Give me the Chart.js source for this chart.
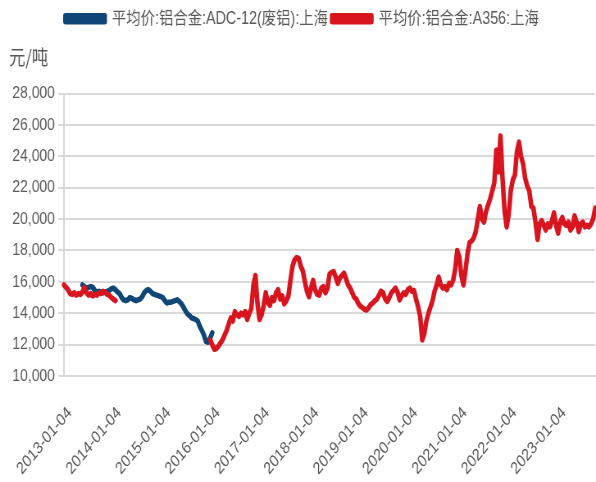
<!DOCTYPE html>
<html>
<head>
<meta charset="utf-8">
<script src="https://cdn.jsdelivr.net/npm/chart.js@4.4.1/dist/chart.umd.min.js"></script>
<style>
  html, body { margin: 0; padding: 0; background: #ffffff; overflow: hidden; }
  #wrap { width: 596px; height: 482px; }
  /* the reference is horizontally condensed: draw wider, show at 596px */
  #c { width: 596px; height: 482px; display: block; }
</style>
</head>
<body>
<div id="wrap"><canvas id="c" width="727" height="482" style="width:596px;height:482px"></canvas></div>
<script>
// ---- Data (semi-monthly samples) ----
const tickLabels = ['2013-01-04','2014-01-04','2015-01-04','2016-01-04','2017-01-04',
  '2018-01-04','2019-01-04','2020-01-04','2021-01-04','2022-01-04','2023-01-04'];
const samplesPerYear = 24;
const seriesNames = ['平均价:铝合金:ADC-12(废铝):上海', '平均价:铝合金:A356:上海'];
const unitLabel = '元/吨';

// A356, Jan 2013 - Jan 2014
const a356Early = [15800,15650,15500,15250,15200,15300,15150,15250,15200,15350,
  15650,15300,15150,15250,15100,15200,15150,15300,15250,15400,
  15350,15200,15150,15000,14900,14800];
// A356 gap (no data) length in samples
const a356GapLength = 45;
// A356, Dec 2015 - Sep 2023
const a356Late = [12300,12000,11700,11750,11900,12100,12300,12600,12900,13300,
  13700,13500,14100,13900,13800,14000,13900,14100,13600,14000,
  14300,15800,16400,14600,13600,13900,14500,15300,14700,14500,
  15000,14800,15300,15500,14900,15100,14600,14800,15100,16100,
  17000,17400,17550,17500,17000,16700,16000,15400,15050,15600,
  16100,15500,15200,15150,15600,15700,15300,15600,16500,16600,
  16650,16300,15900,16250,16400,16550,16200,15800,15600,15300,
  15000,14900,14600,14450,14350,14250,14200,14350,14550,14650,
  14800,14900,15150,15400,15300,14900,14750,15000,15300,15450,
  15600,15350,14850,15100,15300,15200,15500,15600,15400,15450,
  14900,14400,13800,12300,12700,13500,14000,14400,14800,15400,
  15800,16300,15800,15600,15700,15500,15900,15800,16100,16800,
  18000,17600,16400,15800,16700,17800,18500,18600,18800,19200,
  20000,20800,20000,19800,20500,20900,21300,21800,22300,24400,
  23000,25300,22600,20500,19500,20300,21800,22500,22800,24300,
  24900,24000,23500,22600,22100,21800,20800,20700,19800,18700,
  19700,19900,19600,19300,19700,19500,19900,20400,19600,19100,
  19800,20100,19700,19600,19800,19300,19500,20200,19800,19200,
  19700,19800,19500,19600,19500,19700,20000,20700];

// ADC-12, May 2013 - Jan 2016
const adc12StartSample = 9;
const adc12 = [15800,15700,15600,15650,15700,15650,15450,15350,15400,15350,
  15300,15350,15400,15450,15550,15600,15500,15350,15250,15000,
  14850,14800,14850,15000,14950,14850,14800,14850,14900,15050,
  15300,15450,15500,15400,15250,15200,15150,15100,15050,15000,
  14800,14650,14700,14700,14750,14800,14850,14750,14600,14400,
  14150,13950,13850,13700,13650,13600,13500,13150,12900,12600,
  12200,12150,12400,12750];

// ---- Build library tables ----
const a356 = a356Early.concat(new Array(a356GapLength).fill(null), a356Late);
const nPts = a356.length;
const labels = [];
for (let i = 0; i < nPts; i++) {
  labels.push(i % samplesPerYear === 0 && tickLabels[i / samplesPerYear] ? tickLabels[i / samplesPerYear] : '');
}
const adcFull = new Array(nPts).fill(null);
adc12.forEach((v, k) => { adcFull[adc12StartSample + k] = v; });

const textColor = '#595959';
const gridColor = '#d9d9d9';
const latin = "'Liberation Sans', 'Noto Sans CJK SC', sans-serif";

new Chart(document.getElementById('c'), {
  type: 'line',
  data: {
    labels: labels,
    datasets: [
      { label: seriesNames[0], data: adcFull, borderColor: '#0f4678', backgroundColor: '#0f4678',
        borderWidth: 5.5, pointRadius: 0, tension: 0, spanGaps: false, order: 1,
        borderJoinStyle: 'round', borderCapStyle: 'round' },
      { label: seriesNames[1], data: a356, borderColor: '#d8141e', backgroundColor: '#d8141e',
        borderWidth: 5.5, pointRadius: 0, tension: 0, spanGaps: false, order: 0,
        borderJoinStyle: 'round', borderCapStyle: 'round' }
    ]
  },
  options: {
    responsive: false,
    animation: false,
    devicePixelRatio: 1,
    layout: { padding: { left: 11, right: 1, top: 5, bottom: 0 } },
    plugins: {
      tooltip: { enabled: false },
      legend: {
        display: true, position: 'top', align: 'center',
        labels: {
          boxWidth: 48, boxHeight: 6, padding: 5, color: textColor,
          font: { family: latin, size: 17.5 },
          sort: (a, b) => a.datasetIndex - b.datasetIndex
        }
      },
      title: {
        display: true, text: unitLabel, align: 'start', position: 'top', weight: 500,
        color: textColor, font: { family: "'Noto Sans CJK SC', sans-serif", size: 20, weight: 'normal' },
        padding: { top: 8, bottom: 24 }
      }
    },
    scales: {
      x: {
        type: 'category',
        grid: { display: false },
        border: { display: true, color: gridColor, width: 2 },
        ticks: {
          autoSkip: false, minRotation: 45, maxRotation: 45, padding: 19, labelOffset: 7,
          color: textColor, font: { family: latin, size: 17 },
          callback: function(val, idx) { return labels[idx]; }
        },
        afterFit: (scale) => { scale.height = 106; scale.paddingLeft = 0; scale.paddingRight = 0; }
      },
      y: {
        min: 10000, max: 28000,
        grid: { color: gridColor, lineWidth: 2, tickLength: 7, drawTicks: true },
        border: { display: true, color: gridColor, width: 2 },
        ticks: {
          stepSize: 2000, padding: 4, color: textColor,
          font: { family: latin, size: 17 },
          callback: (v) => v.toLocaleString('en-US')
        }
      }
    }
  }
});
</script>
</body>
</html>
